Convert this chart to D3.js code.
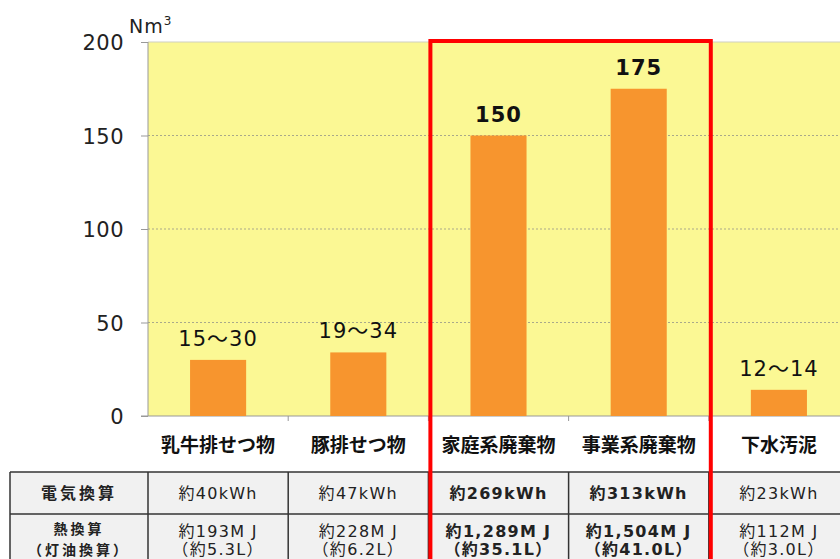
<!DOCTYPE html>
<html><head><meta charset="utf-8">
<script src="https://cdn.jsdelivr.net/npm/d3@7"></script>
<style>body{margin:0;background:#fff}svg{display:block}</style>
</head><body>
<script>
const categories = ["乳牛排せつ物","豚排せつ物","家庭系廃棄物","事業系廃棄物","下水汚泥"];
const values = [30, 34, 150, 175, 14];
const valueLabels = ["15〜30","19〜34","150","175","12〜14"];
const highlight = [false,false,true,true,false];
const elecRow = ["約40kWh","約47kWh","約269kWh","約313kWh","約23kWh"];
const heatRow = ["約193M J","約228M J","約1,289M J","約1,504M J","約112M J"];
const keroRow = ["（約5.3L）","（約6.2L）","（約35.1L）","（約41.0L）","（約3.0L）"];
const yTicks = [0,50,100,150,200];
const rowHeads = [["電気換算"],["熱換算","（灯油換算）"]];

const W=840,H=559;
const FONT = "'DejaVu Sans','Noto Sans CJK JP',sans-serif";
const JFONT = "'Noto Sans CJK JP','DejaVu Sans',sans-serif";
const svg = d3.select("body").append("svg").attr("width",W).attr("height",H);

const x = d3.scaleBand().domain(categories).range([148,849]).paddingInner(0.6).paddingOuter(0.3);
const y = d3.scaleLinear().domain([0,200]).range([416,42]);
const step = x.step();

// plot background
svg.append("rect").attr("x",148).attr("y",y(200)).attr("width",849-148).attr("height",y(0)-y(200)).attr("fill","#fbf894");

// gridlines
svg.append("g").selectAll("line").data(yTicks.filter(d=>d>0)).join("line")
  .attr("x1",148).attr("x2",W).attr("y1",d=>y(d)).attr("y2",d=>y(d))
  .attr("stroke",d=>d===200?"#cfcfc0":"#a9a98a").attr("stroke-width",1)
  .attr("stroke-dasharray",d=>d===200?null:"2,2");

// y axis
const yAxis = d3.axisLeft(y).tickValues(yTicks).tickSize(7).tickPadding(17);
const gy = svg.append("g").attr("transform","translate(148,0)").call(yAxis);
gy.select(".domain").attr("stroke","#999").attr("d",`M0,${y(200)}V${y(0)}`);
gy.selectAll(".tick line").attr("stroke","#999");
gy.selectAll(".tick text").attr("font-family",FONT).attr("font-size",21).attr("letter-spacing",0.5).attr("fill","#222").attr("dy","0.36em");

// Nm3 unit
const unit = svg.append("text").attr("x",129).attr("y",33).attr("font-family",FONT).attr("font-size",19).attr("letter-spacing",1).attr("fill","#222");
unit.append("tspan").text("Nm");
unit.append("tspan").attr("font-size",12).attr("dy",-8).text("3");

// x axis
svg.append("line").attr("x1",141).attr("x2",W).attr("y1",y(0)).attr("y2",y(0)).attr("stroke","#999");
svg.append("g").selectAll("line").data(categories.slice(1)).join("line")
  .attr("x1",d=>x(d)-x.paddingInner()*step/2).attr("x2",d=>x(d)-x.paddingInner()*step/2)
  .attr("y1",y(0)).attr("y2",y(0)+5).attr("stroke","#999");

// bars
svg.append("g").selectAll("rect").data(categories).join("rect")
  .attr("x",d=>x(d)).attr("width",x.bandwidth())
  .attr("y",(d,i)=>y(values[i])).attr("height",(d,i)=>y(0)-y(values[i]))
  .attr("fill","#f7952e");

// value labels
svg.append("g").selectAll("text").data(categories).join("text")
  .attr("x",d=>x(d)+x.bandwidth()/2).attr("y",(d,i)=>y(values[i])-14)
  .attr("text-anchor","middle").attr("font-family",FONT).attr("font-size",21).attr("letter-spacing",1)
  .attr("font-weight",(d,i)=>highlight[i]?"bold":"normal").attr("fill","#111")
  .text((d,i)=>valueLabels[i]);

// category labels
svg.append("g").selectAll("text").data(categories).join("text")
  .attr("x",d=>x(d)+x.bandwidth()/2).attr("y",445).attr("dy","0.35em")
  .attr("text-anchor","middle").attr("font-family",JFONT).attr("font-size",19)
  .attr("font-weight","bold").attr("fill","#111").text(d=>d);

// table
const tTop=472, r1=514, tBot=575, tLeft=10;
const colEdges = [tLeft].concat(categories.map(d=>x(d)-x.paddingInner()*step/2)).concat([849]);
const tg = svg.append("g");
tg.append("rect").attr("x",tLeft).attr("y",tTop).attr("width",849-tLeft).attr("height",tBot-tTop).attr("fill","#f1f1f1");
tg.selectAll("line.h").data([tTop,r1,tBot]).join("line").attr("class","h")
  .attr("x1",tLeft).attr("x2",849).attr("y1",d=>d).attr("y2",d=>d).attr("stroke","#333").attr("stroke-width",1.5);
tg.selectAll("line.v").data(colEdges).join("line").attr("class","v")
  .attr("x1",d=>d).attr("x2",d=>d).attr("y1",tTop).attr("y2",tBot).attr("stroke","#333").attr("stroke-width",1.5);

const TFS = 16;
const headX = (colEdges[0]+colEdges[1])/2;
tg.append("text").attr("x",headX).attr("y",(tTop+r1)/2).attr("dy","0.36em").attr("text-anchor","middle")
  .attr("font-family",JFONT).attr("font-size",16).attr("letter-spacing",3).attr("font-weight","bold").attr("fill","#222").text(rowHeads[0][0]);
tg.append("text").attr("x",headX).attr("y",529).attr("dy","0.36em").attr("text-anchor","middle")
  .attr("font-family",JFONT).attr("font-size",14).attr("letter-spacing",3).attr("font-weight","bold").attr("fill","#222").text(rowHeads[1][0]);
tg.append("text").attr("x",headX).attr("y",550).attr("dy","0.36em").attr("text-anchor","middle")
  .attr("font-family",JFONT).attr("font-size",14).attr("letter-spacing",3).attr("font-weight","bold").attr("fill","#222").text(rowHeads[1][1]);

const cx = d=>x(d)+x.bandwidth()/2;
function rowText(arr, yy){
  tg.append("g").selectAll("text").data(categories).join("text")
    .attr("x",cx).attr("y",yy).attr("dy","0.36em").attr("text-anchor","middle")
    .attr("font-family",FONT).attr("font-size",TFS).attr("letter-spacing",1.3)
    .attr("font-weight",(d,i)=>highlight[i]?"bold":"normal")
    .attr("fill","#222").text((d,i)=>arr[i]);
}
rowText(elecRow,(tTop+r1)/2);
rowText(heatRow,531);
rowText(keroRow,549);

// red highlight box
const hi = categories.filter((d,i)=>highlight[i]);
const bx0 = x(hi[0]) - x.paddingInner()*step/2 + 2;
const bx1 = x(hi[hi.length-1]) + x.bandwidth() + x.paddingInner()*step/2 + 2;
svg.append("rect").attr("x",bx0).attr("y",y(200)-1).attr("width",bx1-bx0).attr("height",H+20-y(200))
  .attr("fill","none").attr("stroke","#f00").attr("stroke-width",4);
</script>
</body></html>
